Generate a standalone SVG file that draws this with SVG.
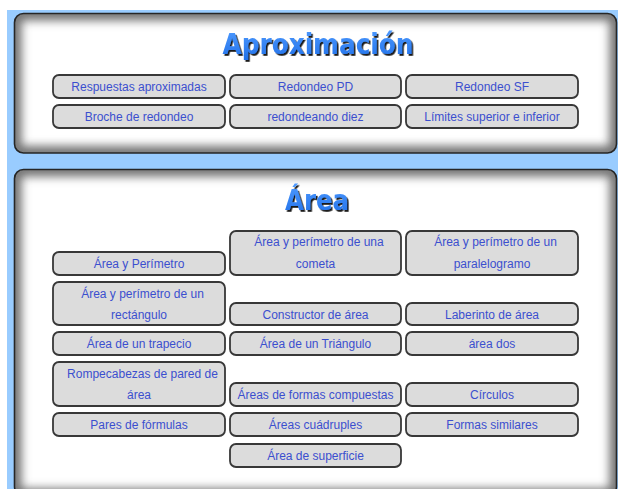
<svg xmlns="http://www.w3.org/2000/svg" width="618" height="489" viewBox="0 0 618 489">
<style>
.btn{fill:#dcdcdc;stroke:#383838;stroke-width:1.8}
.t{font-family:"Liberation Sans",Arial,sans-serif;font-size:12px;fill:#3b4fcf;text-anchor:middle}
.title{font-family:"DejaVu Sans",Verdana,sans-serif;font-weight:bold;font-size:28px;fill:url(#tg);text-anchor:middle;filter:url(#ds)}
.border{fill:none;stroke:#262626;stroke-width:1.6}
.inset{fill:none;stroke:#707070;stroke-width:14;filter:url(#blur)}
</style>
<defs>
<linearGradient id="tg" x1="0" y1="0" x2="0" y2="1">
<stop offset="0" stop-color="#4f9bff"/>
<stop offset="1" stop-color="#1f6fe8"/>
</linearGradient>
<filter id="ds" x="-10%" y="-30%" width="130%" height="170%">
<feDropShadow dx="1.6" dy="1.8" stdDeviation="0.7" flood-color="#000" flood-opacity="0.9"/>
</filter>
<filter id="blur" x="-5%" y="-10%" width="110%" height="120%">
<feGaussianBlur stdDeviation="5"/>
</filter>
<clipPath id="c1"><rect x="14.5" y="13.5" width="602" height="139.5" rx="9"/></clipPath>
<clipPath id="c2"><rect x="14.5" y="169.5" width="602" height="326" rx="9"/></clipPath>
</defs>
<rect x="0" y="0" width="618" height="489" fill="#ffffff"/>
<rect x="7" y="10" width="611" height="479" fill="#99ccff"/>

<g id="panel-aproximacion">
<g clip-path="url(#c1)">
<rect x="14.5" y="13.5" width="602" height="139.5" rx="9" fill="#ffffff"/>
<rect class="inset" x="14.5" y="13.5" width="602" height="139.5" rx="9"/>
</g>
<rect class="border" x="14.5" y="13.5" width="602" height="139.5" rx="9"/>
<text class="title" x="318" y="54" textLength="191" lengthAdjust="spacingAndGlyphs">Aproximación</text>
</g>

<g id="panel-area">
<g clip-path="url(#c2)">
<rect x="14.5" y="169.5" width="602" height="326" rx="9" fill="#ffffff"/>
<rect class="inset" x="14.5" y="169.5" width="602" height="326" rx="9"/>
</g>
<rect class="border" x="14.5" y="169.5" width="602" height="326" rx="9"/>
<text class="title" x="317" y="210" textLength="64" lengthAdjust="spacingAndGlyphs">Área</text>
</g>

<g id="respuestas-aproximadas"><rect class="btn" x="53" y="75" width="172" height="23" rx="6"/><text class="t" x="139" y="91">Respuestas aproximadas</text></g>
<g id="redondeo-pd"><rect class="btn" x="230" y="75" width="171" height="23" rx="6"/><text class="t" x="315.5" y="91">Redondeo PD</text></g>
<g id="redondeo-sf"><rect class="btn" x="406" y="75" width="172" height="23" rx="6"/><text class="t" x="492" y="91">Redondeo SF</text></g>
<g id="broche-de-redondeo"><rect class="btn" x="53" y="105" width="172" height="23" rx="6"/><text class="t" x="139" y="121">Broche de redondeo</text></g>
<g id="redondeando-diez"><rect class="btn" x="230" y="105" width="171" height="23" rx="6"/><text class="t" x="315.5" y="121">redondeando diez</text></g>
<g id="limites"><rect class="btn" x="406" y="105" width="172" height="23" rx="6"/><text class="t" x="492" y="121">Límites superior e inferior</text></g>

<g id="area-y-perimetro"><rect class="btn" x="53" y="252" width="172" height="23" rx="6"/><text class="t" x="139" y="268">Área y Perímetro</text></g>
<g id="area-cometa"><rect class="btn" x="230" y="231" width="171" height="44" rx="6"/><text class="t" x="319" y="246">Área y perímetro de una</text><text class="t" x="315.5" y="268">cometa</text></g>
<g id="area-paralelogramo"><rect class="btn" x="406" y="231" width="172" height="44" rx="6"/><text class="t" x="495.5" y="246">Área y perímetro de un</text><text class="t" x="492" y="268">paralelogramo</text></g>

<g id="area-rectangulo"><rect class="btn" x="53" y="282" width="172" height="43" rx="6"/><text class="t" x="142.5" y="297.5">Área y perímetro de un</text><text class="t" x="139" y="318.5">rectángulo</text></g>
<g id="constructor-de-area"><rect class="btn" x="230" y="303" width="171" height="22" rx="6"/><text class="t" x="315.5" y="318.5">Constructor de área</text></g>
<g id="laberinto-de-area"><rect class="btn" x="406" y="303" width="172" height="22" rx="6"/><text class="t" x="492" y="318.5">Laberinto de área</text></g>

<g id="area-trapecio"><rect class="btn" x="53" y="332" width="172" height="23" rx="6"/><text class="t" x="139" y="348">Área de un trapecio</text></g>
<g id="area-triangulo"><rect class="btn" x="230" y="332" width="171" height="23" rx="6"/><text class="t" x="315.5" y="348">Área de un Triángulo</text></g>
<g id="area-dos"><rect class="btn" x="406" y="332" width="172" height="23" rx="6"/><text class="t" x="492" y="348">área dos</text></g>

<g id="rompecabezas"><rect class="btn" x="53" y="362" width="172" height="44" rx="6"/><text class="t" x="142.5" y="377.5">Rompecabezas de pared de</text><text class="t" x="139" y="399">área</text></g>
<g id="formas-compuestas"><rect class="btn" x="230" y="383" width="171" height="23" rx="6"/><text class="t" x="315.5" y="399">Áreas de formas compuestas</text></g>
<g id="circulos"><rect class="btn" x="406" y="383" width="172" height="23" rx="6"/><text class="t" x="492" y="399">Círculos</text></g>

<g id="pares-de-formulas"><rect class="btn" x="53" y="413" width="172" height="23" rx="6"/><text class="t" x="139" y="429">Pares de fórmulas</text></g>
<g id="areas-cuadruples"><rect class="btn" x="230" y="413" width="171" height="23" rx="6"/><text class="t" x="315.5" y="429">Áreas cuádruples</text></g>
<g id="formas-similares"><rect class="btn" x="406" y="413" width="172" height="23" rx="6"/><text class="t" x="492" y="429">Formas similares</text></g>

<g id="area-de-superficie"><rect class="btn" x="230" y="444" width="171" height="23" rx="6"/><text class="t" x="315.5" y="460">Área de superficie</text></g>
</svg>
